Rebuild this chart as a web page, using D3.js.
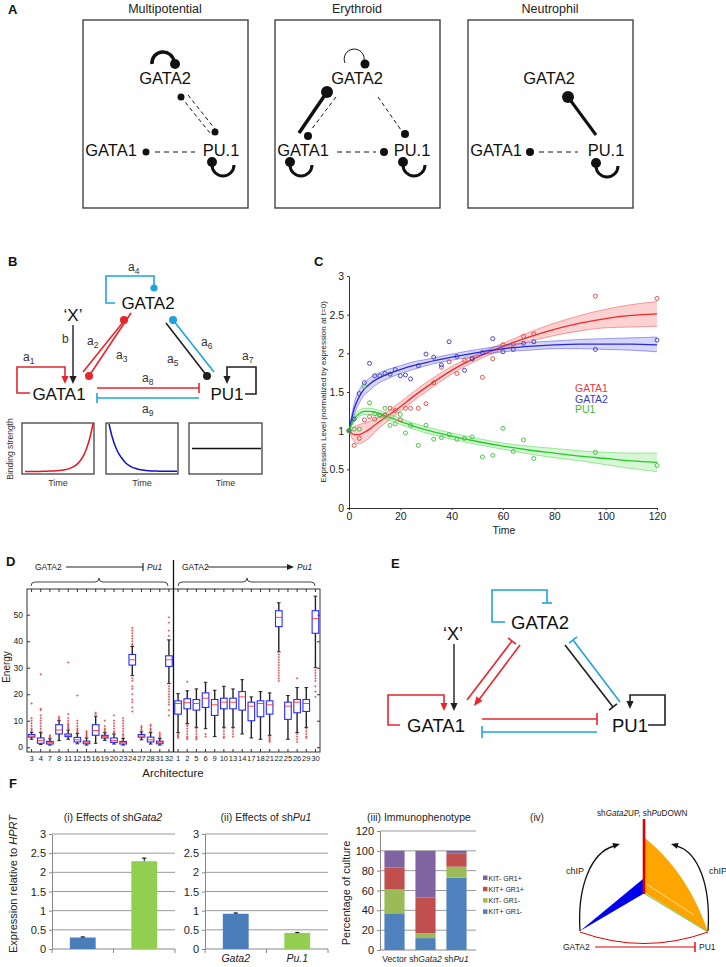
<!DOCTYPE html>
<html><head><meta charset="utf-8">
<script src="https://cdn.jsdelivr.net/npm/d3@7"></script>
<style>body{margin:0;background:#fff}svg{display:block}</style>
</head><body><svg id="fig" width="726" height="967"></svg>
<script>
// ---------------- DATA ----------------
// Panel C: time course
const timePoints = [0,2,4,6,8,10,12,14,16,18,20,22,24,27,30,33,36,39,42,45,48,52,56,60,64,68,72,96,120];
const gata1Expr = [1.0,0.81,0.90,1.14,1.18,1.15,1.20,1.20,1.29,1.26,1.14,1.29,1.29,1.29,1.35,1.62,1.82,1.89,1.74,1.91,1.93,1.69,1.93,2.11,2.12,2.22,2.25,2.74,2.71];
const gata2Expr = [1.0,1.15,1.48,1.62,1.87,1.71,1.71,1.74,1.73,1.79,1.71,1.72,1.67,1.84,1.99,1.95,1.85,2.15,1.96,1.78,1.93,2.01,2.19,2.02,2.05,2.13,2.15,2.05,2.17];
const pu1Expr   = [1.0,1.02,1.02,1.57,1.36,1.22,1.20,1.29,1.07,1.09,1.21,0.97,1.07,0.81,1.07,0.89,0.91,0.95,0.89,0.90,0.92,0.66,0.68,1.03,0.73,0.88,0.64,0.72,0.55];
const fitTimes  = [0,2,4,6,8,10,15,20,25,30,40,50,60,70,80,90,100,110,120];
const gata1Fit  = [1.0,0.95,0.95,0.98,1.02,1.07,1.19,1.31,1.44,1.56,1.78,1.95,2.09,2.21,2.31,2.39,2.45,2.49,2.51];
const gata1Up   = [1.0,1.05,1.08,1.10,1.12,1.15,1.25,1.37,1.50,1.62,1.83,1.99,2.13,2.27,2.39,2.49,2.57,2.63,2.67];
const gata1Lo   = [1.0,0.86,0.83,0.86,0.91,0.98,1.12,1.25,1.38,1.50,1.73,1.91,2.05,2.15,2.23,2.29,2.33,2.34,2.35];
const gata2Fit  = [1.0,1.28,1.44,1.54,1.60,1.65,1.73,1.79,1.84,1.88,1.95,2.01,2.06,2.09,2.11,2.12,2.12,2.12,2.11];
const gata2Up   = [1.0,1.35,1.53,1.62,1.68,1.72,1.79,1.84,1.89,1.92,1.99,2.05,2.10,2.14,2.16,2.18,2.19,2.20,2.21];
const gata2Lo   = [1.0,1.20,1.36,1.46,1.52,1.58,1.67,1.74,1.79,1.84,1.91,1.97,2.02,2.04,2.06,2.06,2.05,2.04,2.02];
const pu1Fit    = [1.0,1.15,1.22,1.25,1.25,1.24,1.18,1.12,1.06,1.01,0.93,0.86,0.80,0.75,0.71,0.67,0.64,0.61,0.59];
const pu1Up     = [1.0,1.19,1.26,1.29,1.29,1.28,1.22,1.16,1.10,1.05,0.97,0.90,0.84,0.80,0.77,0.74,0.72,0.71,0.71];
const pu1Lo     = [1.0,1.11,1.18,1.21,1.21,1.20,1.14,1.08,1.02,0.97,0.89,0.82,0.76,0.70,0.65,0.61,0.56,0.51,0.47];
const timeTicks = [0,20,40,60,80,100,120];
const exprTicks = [0,0.5,1,1.5,2,2.5,3];

// Panel B: binding strength sketches
const bindRise  = [0.03,0.03,0.03,0.03,0.03,0.035,0.035,0.04,0.04,0.045,0.05,0.06,0.07,0.09,0.12,0.16,0.23,0.33,0.48,0.70,1.0];
const bindDecay = [1.0,0.72,0.52,0.38,0.28,0.20,0.15,0.11,0.09,0.07,0.06,0.05,0.045,0.04,0.04,0.035,0.035,0.035,0.035,0.035,0.035];
const bindFlat  = [0.5,0.5];

// Panel D: energy boxplots
const archLabels = ['3','4','7','8','11','12','15','16','19','20','23','24','27','28','31','32','1','2','5','6','9','10','13','14','17','18','21','22','25','26','29','30'];
const energyMedian = [4.2,2.5,1.7,6.5,4.5,2.8,1.7,6.3,4.0,2.5,1.7,33,4.2,2.8,1.7,33,16.5,16.8,16.5,18.5,16,17,17,19,15.5,16.5,16,49,15.5,17,16.5,48.5];
const energyQ1 = [3.8,1.5,1.2,5.0,4.0,2.0,1.3,4.5,3.5,1.8,1.2,31,3.8,2.0,1.3,30.5,12.5,14.5,14,15,12,14.5,14.5,14,10,11.5,12.5,45.5,10.5,13,13.5,43];
const energyQ3 = [4.8,3.5,2.2,8.5,5.0,3.7,2.3,8.5,4.5,3.5,2.2,35,4.8,3.8,2.3,34.5,17.5,18.3,18,20.5,18,18.5,18.5,21,17,17.5,17.5,51.5,17,18,18,51.5];
const energyLow = [3.0,1.0,0.8,2.5,3.0,1.3,0.8,1.5,2.6,1.2,0.8,27,2.8,1.2,0.8,24,5.5,9,7.5,7,4,7.5,7.5,5,3.5,3,4.5,36,3,5.5,7.5,30];
const energyHigh = [5.6,5.5,3.2,10,6.5,5.2,3.5,11.7,5.5,5.0,3.3,38,5.8,5.5,3.3,40.5,20.2,21.3,22,24.5,21.5,23,22,25.5,19,21,20.5,54.5,19.5,22.5,22.5,57];
const energyOutliers = [
 [6,6.5,7,8,9,10,11,16.5],[6,7,8,9,10,11,12,14,14.5,27.5],[3.5,4,4.5],[10.5,11,11.5],
 [7,7.5,8,8.5,9,10,11,12.5,32],[5.5,6,6.5,7,8,9,10,19.5],[4,4.5,5,5.5,6],[12.5,13],
 [6,6.5,7,8,10],[5.5,6,7,8,9,10,12],[3.8,4.5,5,6,7,8,9,10,11],[13.5,15,17,18,20,22,23,25,26,38.5,39,40,41,42,43,44,45],
 [6.2,6.8,7.5,8],[6,6.5,7,8,8.5],[3.7,4.2,4.8,5.5],[12,14,16,17,18,19,20,21,22,23,42,44,47,49],
 [3.5,4,4.5,5],[3,3.5,4,5,6,7,8,8.5,24.7],[3,3.5,4,5,6,7],[4,5],
 [],[3.5,4,5,6,7],[4,5,6,7],[],
 [],[],[2,2.5,3,3.5,4],[25,26,27,28,29,30,31,32,33,34,35],
 [],[2,3,4,5,26],[3.5,4,5,6,7],[19,21,23,25,26,27,28,29]
];
const energyTicks = [0,10,20,30,40,50];

// Panel F
const shGata2Genes = ['g1','g2'];
const shGata2Values = [0.30,2.29];
const shGata2Err = [0.015,0.08];
const shPu1Genes = ['Gata2','Pu.1'];
const shPu1Values = [0.92,0.42];
const shPu1Err = [0.02,0.01];
const exprBarTicks = [0,0.5,1,1.5,2,2.5,3];
const cultures = ['Vector','shGata2','shPu1'];
const phenotypes = ['KIT+ GR1-','KIT- GR1-','KIT+ GR1+','KIT- GR1+'];
const kitPosGr1Neg = [37,12,73];
const kitNegGr1Neg = [24,5,11];
const kitPosGr1Pos = [22,36,13];
const kitNegGr1Pos = [17,47,3];
const pctTicks = [0,20,40,60,80,100,120];

// ---------------- DRAWING ----------------
const FONT='"Liberation Sans", Arial, Helvetica, sans-serif';
const svg=d3.select('#fig').attr('font-family',FONT);
svg.append('rect').attr('width',726).attr('height',967).attr('fill','#fff');
const RED='#e8252a', CYAN='#1ea3dc', BLK='#231f20';

function T(g,x,y,s,o={}){const t=g.append('text').attr('x',x).attr('y',y).text(s)
  .attr('font-size',o.size||10).attr('fill',o.fill||'#222').attr('text-anchor',o.anchor||'start');
  if(o.weight)t.attr('font-weight',o.weight); if(o.style)t.attr('font-style',o.style);
  if(o.rotate!=null)t.attr('transform',`rotate(${o.rotate},${x},${y})`); return t;}
function L(g,x1,y1,x2,y2,c,w,dash){const l=g.append('line').attr('x1',x1).attr('y1',y1).attr('x2',x2).attr('y2',y2)
  .attr('stroke',c).attr('stroke-width',w); if(dash)l.attr('stroke-dasharray',dash); return l;}
function C(g,x,y,r,c){g.append('circle').attr('cx',x).attr('cy',y).attr('r',r).attr('fill',c);}
function P(g,d,c,w,fill){return g.append('path').attr('d',d).attr('stroke',c).attr('stroke-width',w).attr('fill',fill||'none');}
function head(g,x1,y1,x2,y2,c,len=8,wid=3.6){
  const a=Math.atan2(y2-y1,x2-x1), bx=x2-len*Math.cos(a), by=y2-len*Math.sin(a);
  const px=-Math.sin(a)*wid, py=Math.cos(a)*wid;
  g.append('polygon').attr('points',`${x2},${y2} ${bx+px},${by+py} ${bx-px},${by-py}`).attr('fill',c);}
function bar(g,x1,y1,x2,y2,c,w,half=5){
  const a=Math.atan2(y2-y1,x2-x1), px=-Math.sin(a)*half, py=Math.cos(a)*half;
  L(g,x2+px,y2+py,x2-px,y2-py,c,w);}
function aSub(g,x,y,n){const t=g.append('text').attr('x',x).attr('y',y).attr('font-size',12).attr('fill','#333');
  t.append('tspan').text('a'); t.append('tspan').attr('dy',3).attr('font-size',8.5).text(n);}
function styleAxis(g,size){g.attr('font-family',FONT).attr('font-size',size);
  g.selectAll('path,line').attr('stroke','#333'); g.selectAll('text').attr('fill','#222');}

[['A',8,14],['B',8,266],['C',314,266],['D',6,566],['E',391,568],['F',9,788]].forEach(d=>
  T(svg,d[1],d[2],d[0],{size:13,weight:'bold',fill:'#111'}));

// ---------- Panel A ----------
const gA=svg.append('g');
const titlesA=['Multipotential','Erythroid','Neutrophil'];
const boxXA=[83,275,468];
boxXA.forEach((bx,i)=>{
  gA.append('rect').attr('x',bx).attr('y',20).attr('width',165).attr('height',188).attr('fill','none').attr('stroke','#444').attr('stroke-width',1.4);
  T(gA,bx+82,13,titlesA[i],{size:12.5,anchor:'middle'});
});
function nodeTxt(x,y,s){T(gA,x,y,s,{size:16.5,anchor:'middle',fill:'#111'});}
{const bx=83;
 nodeTxt(bx+82,84,'GATA2'); nodeTxt(bx+28,156,'GATA1'); nodeTxt(bx+138,156,'PU.1');
 P(gA,`M${bx+69},64 A11,11 0 1,1 ${bx+91},62`,'#111',3.5); C(gA,bx+92,64,5,'#111');
 L(gA,bx+98,97,bx+127,133,'#111',1,'4,3'); L(gA,bx+105,95,bx+132,129,'#111',1,'4,3');
 C(gA,bx+98,97,3.5,'#111'); C(gA,bx+132,132,3.5,'#111');
 C(gA,bx+63,152,3.5,'#111'); L(gA,bx+72,152,bx+112,152,'#111',1,'5,4');
 C(gA,bx+129,162,5,'#111'); P(gA,`M${bx+129},165 A11,11 0 1,0 ${bx+151},165`,'#111',3);}
{const bx=275;
 nodeTxt(bx+82,84,'GATA2'); nodeTxt(bx+28,156,'GATA1'); nodeTxt(bx+137,156,'PU.1');
 P(gA,`M${bx+70},63 A10,10 0 1,1 ${bx+89},61`,'#111',1); C(gA,bx+90,64,4.5,'#111');
 L(gA,bx+52,92,bx+24,133,'#111',3.5); C(gA,bx+52,92,6,'#111');
 L(gA,bx+61,97,bx+36,130,'#111',1,'4,3'); C(gA,bx+33,136,4,'#111');
 L(gA,bx+103,97,bx+126,130,'#111',1,'4,3'); C(gA,bx+130,134,4,'#111');
 L(gA,bx+62,152,bx+101,152,'#111',1,'5,4'); C(gA,bx+109,152,4,'#111');
 C(gA,bx+15,162,5,'#111'); P(gA,`M${bx+15},165 A11,11 0 1,0 ${bx+37},165`,'#111',3);
 C(gA,bx+128,162,5,'#111'); P(gA,`M${bx+128},165 A11,11 0 1,0 ${bx+150},165`,'#111',3);}
{const bx=468;
 nodeTxt(bx+81,84,'GATA2'); nodeTxt(bx+28,156,'GATA1'); nodeTxt(bx+138,156,'PU.1');
 L(gA,bx+100,97,bx+128,135,'#111',3); C(gA,bx+100,97,6,'#111');
 C(gA,bx+62,152,4,'#111'); L(gA,bx+71,152,bx+110,152,'#111',1,'5,4');
 C(gA,bx+128,163,5,'#111'); P(gA,`M${bx+128},166 A11,11 0 1,0 ${bx+150},166`,'#111',3);}

// ---------- Panel B ----------
const gB=svg.append('g');
aSub(gB,128,271,'4');
P(gB,'M115,303 H106 V276 H154 V286',CYAN,1.6); C(gB,154,288,3.6,CYAN);
T(gB,148,309,'GATA2',{size:17,anchor:'middle',fill:'#111'});
T(gB,73,321,'\u2018X\u2019',{size:17,anchor:'middle',fill:'#111'});
T(gB,62,343,'b',{size:12,fill:'#333'});
L(gB,73,325,73,376,BLK,1.4); head(gB,73,370,73,384,BLK,8,3.6);
aSub(gB,23,361,'1');
P(gB,'M30,393 H17 V367 H65 V377',RED,1.6); head(gB,65,370,65,384,RED,8,3.6);
T(gB,59,400,'GATA1',{size:17,anchor:'middle',fill:'#111'});
T(gB,227,400,'PU1',{size:17,anchor:'middle',fill:'#111'});
aSub(gB,87,345,'2'); aSub(gB,116,359,'3');
L(gB,83,372,124,321,RED,1.6); C(gB,124,320,4,RED);
L(gB,89,376,131,313,RED,1.6); C(gB,89,376,4,RED);
aSub(gB,167,363,'5'); aSub(gB,201,346,'6');
L(gB,166,323,207,376,BLK,1.6); C(gB,207,376,4,BLK);
L(gB,173,320,214,372,CYAN,1.6); C(gB,173,320,4,CYAN);
aSub(gB,242,360,'7');
P(gB,'M245,394 H256 V367 H227 V377',BLK,1.6); head(gB,227,370,227,384,BLK,8,3.6);
aSub(gB,142,382,'8');
L(gB,97,388,199,388,RED,1.6); bar(gB,97,388,199,388,RED,1.6,5);
L(gB,199,398,97,398,CYAN,1.6); bar(gB,199,398,97,398,CYAN,1.6,5);
aSub(gB,142,413,'9');
const bindBoxes=[[22,94,bindRise,'#e8141b'],[106,178,bindDecay,'#1010d0'],[189,262,bindFlat,'#111']];
bindBoxes.forEach(b=>{
  gB.append('rect').attr('x',b[0]).attr('y',423).attr('width',b[1]-b[0]).attr('height',51).attr('fill','none').attr('stroke','#333').attr('stroke-width',1.2);
  const xs=d3.scaleLinear().domain([0,b[2].length-1]).range([b[0]+3,b[1]-1]);
  const ys=d3.scaleLinear().domain([0,1]).range([473,424]);
  const line=d3.line().x((d,i)=>xs(i)).y(d=>ys(d)).curve(d3.curveMonotoneX);
  P(gB,line(b[2]),b[3],1.5);
  T(gB,(b[0]+b[1])/2,486,'Time',{size:9,anchor:'middle',fill:'#333'});
});
T(gB,13,449,'Binding strength',{size:8.5,anchor:'middle',rotate:-90,fill:'#333'});

// ---------- Panel C ----------
const gC=svg.append('g');
const cX=d3.scaleLinear().domain([0,120]).range([349,657]);
const cY=d3.scaleLinear().domain([0,3]).range([508,276]);
const axB=gC.append('g').attr('transform','translate(0,508)').call(d3.axisBottom(cX).tickValues(timeTicks).tickSize(2).tickSizeOuter(0).tickPadding(3));
styleAxis(axB,10.5);
const axL=gC.append('g').attr('transform','translate(349,0)').call(d3.axisLeft(cY).tickValues(exprTicks).tickFormat(d=>String(d)).tickSize(2).tickSizeOuter(0).tickPadding(3));
styleAxis(axL,10.5);
T(gC,504,534,'Time',{size:10.5,anchor:'middle'});
T(gC,326,392,'Expression Level (normalized by expression at t=0)',{size:8,anchor:'middle',rotate:-90});
const seriesC=[
  {v:gata1Expr,f:gata1Fit,u:gata1Up,l:gata1Lo,line:'#ee2a2a',band:'rgba(240,90,90,0.28)',pt:'#d8453e'},
  {v:gata2Expr,f:gata2Fit,u:gata2Up,l:gata2Lo,line:'#2626e0',band:'rgba(90,90,230,0.25)',pt:'#3535b8'},
  {v:pu1Expr,f:pu1Fit,u:pu1Up,l:pu1Lo,line:'#22cc22',band:'rgba(90,220,90,0.25)',pt:'#3cbb3c'}];
seriesC.forEach(s=>{
  const area=d3.area().x((d,i)=>cX(fitTimes[i])).y0((d,i)=>cY(s.l[i])).y1((d,i)=>cY(s.u[i])).curve(d3.curveMonotoneX);
  gC.append('path').attr('d',area(s.f)).attr('fill',s.band);
  const ln=arr=>d3.line().x((d,i)=>cX(fitTimes[i])).y(d=>cY(d)).curve(d3.curveMonotoneX)(arr);
  P(gC,ln(s.u),s.line,0.6).attr('opacity',0.7); P(gC,ln(s.l),s.line,0.6).attr('opacity',0.7);
  P(gC,ln(s.f),s.line,1.3);
});
seriesC.forEach(s=>{
  s.v.forEach((v,i)=>gC.append('circle').attr('cx',cX(timePoints[i])).attr('cy',cY(v)).attr('r',2)
    .attr('fill','none').attr('stroke',s.pt).attr('stroke-width',0.9));
});
T(gC,575,392,'GATA1',{size:10.5,fill:'#e8383c'});
T(gC,575,402.5,'GATA2',{size:10.5,fill:'#3a3acc'});
T(gC,575,413,'PU1',{size:10.5,fill:'#3cbb3c'});

// ---------- Panel D ----------
const gD=svg.append('g');
const dX=d3.scaleBand().domain(archLabels).range([27,320]);
const dY=d3.scaleLinear().domain([-1.8,59.7]).range([752,589]);
const bw=dX.bandwidth();
gD.append('rect').attr('x',27).attr('y',589).attr('width',293).attr('height',163).attr('fill','none').attr('stroke','#333').attr('stroke-width',1);
const dl=gD.append('g').attr('transform','translate(27,0)').call(d3.axisLeft(dY).tickValues(energyTicks).tickSize(-3).tickSizeOuter(0).tickPadding(4));
styleAxis(dl,8.5); dl.select('.domain').remove();
const dr=gD.append('g').attr('transform','translate(320,0)').call(d3.axisRight(dY).tickValues(energyTicks).tickSize(-3).tickSizeOuter(0).tickFormat(''));
styleAxis(dr,8); dr.select('.domain').remove();
const db=gD.append('g').attr('transform','translate(0,752)').call(d3.axisBottom(dX).tickSize(-3).tickSizeOuter(0).tickPadding(4));
styleAxis(db,7.6); db.select('.domain').remove();
const dt=gD.append('g').attr('transform','translate(0,589)').call(d3.axisTop(dX).tickSize(-3).tickSizeOuter(0).tickFormat(''));
styleAxis(dt,8); dt.select('.domain').remove();
archLabels.forEach((a,i)=>{
  const cx=dX(a)+bw/2, hw=3.3;
  L(gD,cx,dY(energyLow[i]),cx,dY(energyQ1[i]),'#222',1.4);
  L(gD,cx,dY(energyQ3[i]),cx,dY(energyHigh[i]),'#222',1.4);
  L(gD,cx-1.8,dY(energyLow[i]),cx+1.8,dY(energyLow[i]),'#222',1);
  L(gD,cx-1.8,dY(energyHigh[i]),cx+1.8,dY(energyHigh[i]),'#222',1);
  energyOutliers[i].forEach(o=>{const y=dY(o);
    L(gD,cx-1.1,y,cx+1.1,y,'#e03a3a',0.7); L(gD,cx,y-1.1,cx,y+1.1,'#e03a3a',0.7);});
  gD.append('rect').attr('x',cx-hw).attr('y',dY(energyQ3[i])).attr('width',2*hw).attr('height',dY(energyQ1[i])-dY(energyQ3[i]))
    .attr('fill','#fff').attr('fill-opacity',0.6).attr('stroke','#2a2aff').attr('stroke-width',1.1);
  L(gD,cx-hw,dY(energyMedian[i]),cx+hw,dY(energyMedian[i]),'#ff3030',0.9);
});
const sepX=dX('1');
L(gD,sepX,560,sepX,752,'#111',1.3);
T(gD,10,667,'Energy',{size:10,anchor:'middle',rotate:-90});
T(gD,173,777,'Architecture',{size:11.5,anchor:'middle'});
T(gD,35,570,'GATA2',{size:8.5}); L(gD,66,567,143,567,'#222',1.2); L(gD,143,563,143,571,'#222',1.2);
T(gD,147,570,'Pu1',{size:8.5,style:'italic'});
T(gD,182,570,'GATA2',{size:8.5}); L(gD,208,567,288,567,'#222',1.2); head(gD,280,567,294,567,'#222',7,3);
T(gD,297,570,'Pu1',{size:8.5,style:'italic'});
P(gD,'M31,586 Q31,582 35,582 L95,582 Q99,582 99,578 Q99,582 103,582 L164,582 Q168,582 168,586','#444',1);
P(gD,'M178,586 Q178,582 182,582 L243,582 Q247,582 247,578 Q247,582 251,582 L311,582 Q315,582 315,586','#444',1);

// ---------- Panel E ----------
const gE=svg.append('g');
T(gE,540,629,'GATA2',{size:18.5,anchor:'middle',fill:'#111'});
P(gE,'M505,622 H492 V590 H547 V603',CYAN,1.6); L(gE,542,603,552,603,CYAN,1.6);
T(gE,453,640,'\u2018X\u2019',{size:18,anchor:'middle',fill:'#111'});
L(gE,454,644,454,703,BLK,1.4); head(gE,454,700,454,711,BLK,8,3.6);
P(gE,'M400,725 H388 V695 H444 V703',RED,1.6); head(gE,444,700,444,711,RED,8,3.6);
T(gE,436,732,'GATA1',{size:18.5,anchor:'middle',fill:'#111'});
T(gE,630,732,'PU1',{size:18.5,anchor:'middle',fill:'#111'});
L(gE,482,719,597,719,RED,1.6); bar(gE,482,719,597,719,RED,1.6,6);
L(gE,597,732,482,732,CYAN,1.6); bar(gE,597,732,482,732,CYAN,1.6,6);
P(gE,'M648,725 H665 V695 H630 V701',BLK,1.6); head(gE,630,698,630,709,BLK,8,3.6);
L(gE,467,700,512,641,RED,1.6); bar(gE,467,700,512,641,RED,1.6,5);
L(gE,520,645,478,701,RED,1.6); head(gE,520,645,474,706,RED,9,3.8);
L(gE,565,645,613,707,BLK,1.6); bar(gE,565,645,613,707,BLK,1.6,5);
L(gE,620,702,573,640,CYAN,1.6); bar(gE,620,702,573,640,CYAN,1.6,5);

// ---------- Panel F ----------
const gF=svg.append('g');
function subTitle(x,y,parts,size){const t=gF.append('text').attr('x',x).attr('y',y).attr('font-size',size).attr('fill','#222').attr('text-anchor','middle');
  parts.forEach(p=>{const s=t.append('tspan').text(p[0]); if(p[1])s.attr('font-style','italic');});}
subTitle(113,821,[['(i) Effects of sh'],['Gata2',1]],10.5);
subTitle(266,821,[['(ii) Effects of sh'],['Pu1',1]],10.5);
subTitle(419,821,[['(iii) Immunophenotype']],10.5);
T(gF,537,821,'(iv)',{size:10,anchor:'middle'});
{const t=gF.append('text').attr('transform','translate(17,884) rotate(-90)').attr('font-size',11).attr('text-anchor','middle').attr('fill','#222');
 t.append('tspan').text('Expression relative to '); t.append('tspan').attr('font-style','italic').text('HPRT');}
const fY=d3.scaleLinear().domain([0,3]).range([949,834]);
function barChart(x0,x1,cats,vals,errs,labels){
  const bx=d3.scaleBand().domain(cats).range([x0,x1]);
  exprBarTicks.forEach(t=>{if(t>0)L(gF,x0,fY(t),x1,fY(t),'#9a9a9a',1);});
  const ax=gF.append('g').attr('transform',`translate(${x0},0)`).call(d3.axisLeft(fY).tickValues(exprBarTicks).tickFormat(d=>String(d)).tickSize(3).tickSizeOuter(0).tickPadding(3));
  styleAxis(ax,11); ax.select('.domain').attr('stroke','#888'); ax.selectAll('line').attr('stroke','#888');
  L(gF,x0,fY(0),x1,fY(0),'#888',1);
  [x0,(x0+x1)/2,x1].forEach(x=>L(gF,x,fY(0),x,fY(0)+4,'#888',1));
  cats.forEach((c,i)=>{const w=bx.bandwidth()*0.42, cx=bx(c)+bx.bandwidth()/2;
    gF.append('rect').attr('x',cx-w/2).attr('y',fY(vals[i])).attr('width',w).attr('height',fY(0)-fY(vals[i])).attr('fill',i===0?'#4a7ebb':'#92cf50');
    L(gF,cx,fY(vals[i]),cx,fY(vals[i]+errs[i]),'#111',1); L(gF,cx-2,fY(vals[i]+errs[i]),cx+2,fY(vals[i]+errs[i]),'#111',1.2);
    if(labels) T(gF,cx,962,c,{size:10.5,anchor:'middle',style:'italic'});
  });
}
barChart(52,175,shGata2Genes,shGata2Values,shGata2Err,false);
barChart(205,328,shPu1Genes,shPu1Values,shPu1Err,true);
{const px=d3.scaleBand().domain(cultures).range([379,472]);
 const py=d3.scaleLinear().domain([0,120]).range([950,831]);
 pctTicks.forEach(t=>{if(t>0)L(gF,380,py(t),476,py(t),'#9a9a9a',1);});
 const ax=gF.append('g').attr('transform','translate(380,0)').call(d3.axisLeft(py).tickValues(pctTicks).tickSize(3).tickSizeOuter(0).tickPadding(3));
 styleAxis(ax,11); ax.selectAll('path,line').attr('stroke','#888');
 L(gF,380,py(0),476,py(0),'#888',1);
 const stackData=cultures.map((c,i)=>({c,'KIT+ GR1-':kitPosGr1Neg[i],'KIT- GR1-':kitNegGr1Neg[i],'KIT+ GR1+':kitPosGr1Pos[i],'KIT- GR1+':kitNegGr1Pos[i]}));
 const stacked=d3.stack().keys(phenotypes)(stackData);
 const colors={'KIT+ GR1-':'#4f81bd','KIT- GR1-':'#9bbb59','KIT+ GR1+':'#c0504d','KIT- GR1+':'#8064a2'};
 stacked.forEach(layer=>layer.forEach(d=>{const w=px.bandwidth()*0.65, cx=px(d.data.c)+px.bandwidth()/2;
   gF.append('rect').attr('x',cx-w/2).attr('y',py(d[1])).attr('width',w).attr('height',py(d[0])-py(d[1])).attr('fill',colors[layer.key]);}));
 cultures.forEach(c=>{const cx=px(c)+px.bandwidth()/2;
   const t=gF.append('text').attr('x',cx).attr('y',962).attr('font-size',8.6).attr('text-anchor','middle').attr('fill','#222');
   if(c==='Vector')t.text(c); else {t.append('tspan').text('sh'); t.append('tspan').attr('font-style','italic').text(c.slice(2));}});
 const legendOrder=['KIT- GR1+','KIT+ GR1+','KIT- GR1-','KIT+ GR1-'];
 legendOrder.forEach((k,i)=>{const y=878+i*11.3;
   gF.append('rect').attr('x',483).attr('y',y-2.5).attr('width',4.5).attr('height',4.5).attr('fill',colors[k]);
   T(gF,488.5,y+2.5,k,{size:7});});
 T(gF,350,893,'Percentage of culture',{size:11,anchor:'middle',rotate:-90});
}
{const g=gF;
 const t=g.append('text').attr('x',597).attr('y',816).attr('font-size',8.2).attr('fill','#222');
 t.append('tspan').text('sh'); t.append('tspan').attr('font-style','italic').text('Gata2'); t.append('tspan').text('UP, sh');
 t.append('tspan').attr('font-style','italic').text('Pu'); t.append('tspan').text('DOWN');
 g.append('polygon').attr('points','580,931 643,879 643,894').attr('fill','#0000ee');
 P(g,'M645,838 C665,855 690,880 708,932 L645,893 Z','none',0,'#ffa500');
 L(g,645,894,708,932,'#66cc66',1); L(g,645,883,694,915,'#fff',0.6);
 L(g,644,819,644,894,'#e00000',2.6);
 P(g,'M580,932 Q644,955 708,932','#e00000',1);
 P(g,'M580,931 C577,885 592,852 614,846','#111',1.3); head(g,606,848,620,844,'#111',7,3);
 P(g,'M708,931 C711,885 698,852 677,846','#111',1.3); head(g,685,848,671,844,'#111',7,3);
 T(g,575,874,'chIP',{size:9,anchor:'middle'}); T(g,718,874,'chIP',{size:9,anchor:'middle'});
 T(g,563,950,'GATA2',{size:8.5});
 L(g,595,947,695,947,'#e00000',1.2); L(g,695,942,695,952,'#e00000',1.4);
 T(g,699,950,'PU1',{size:8.5});
}
</script></body></html>
